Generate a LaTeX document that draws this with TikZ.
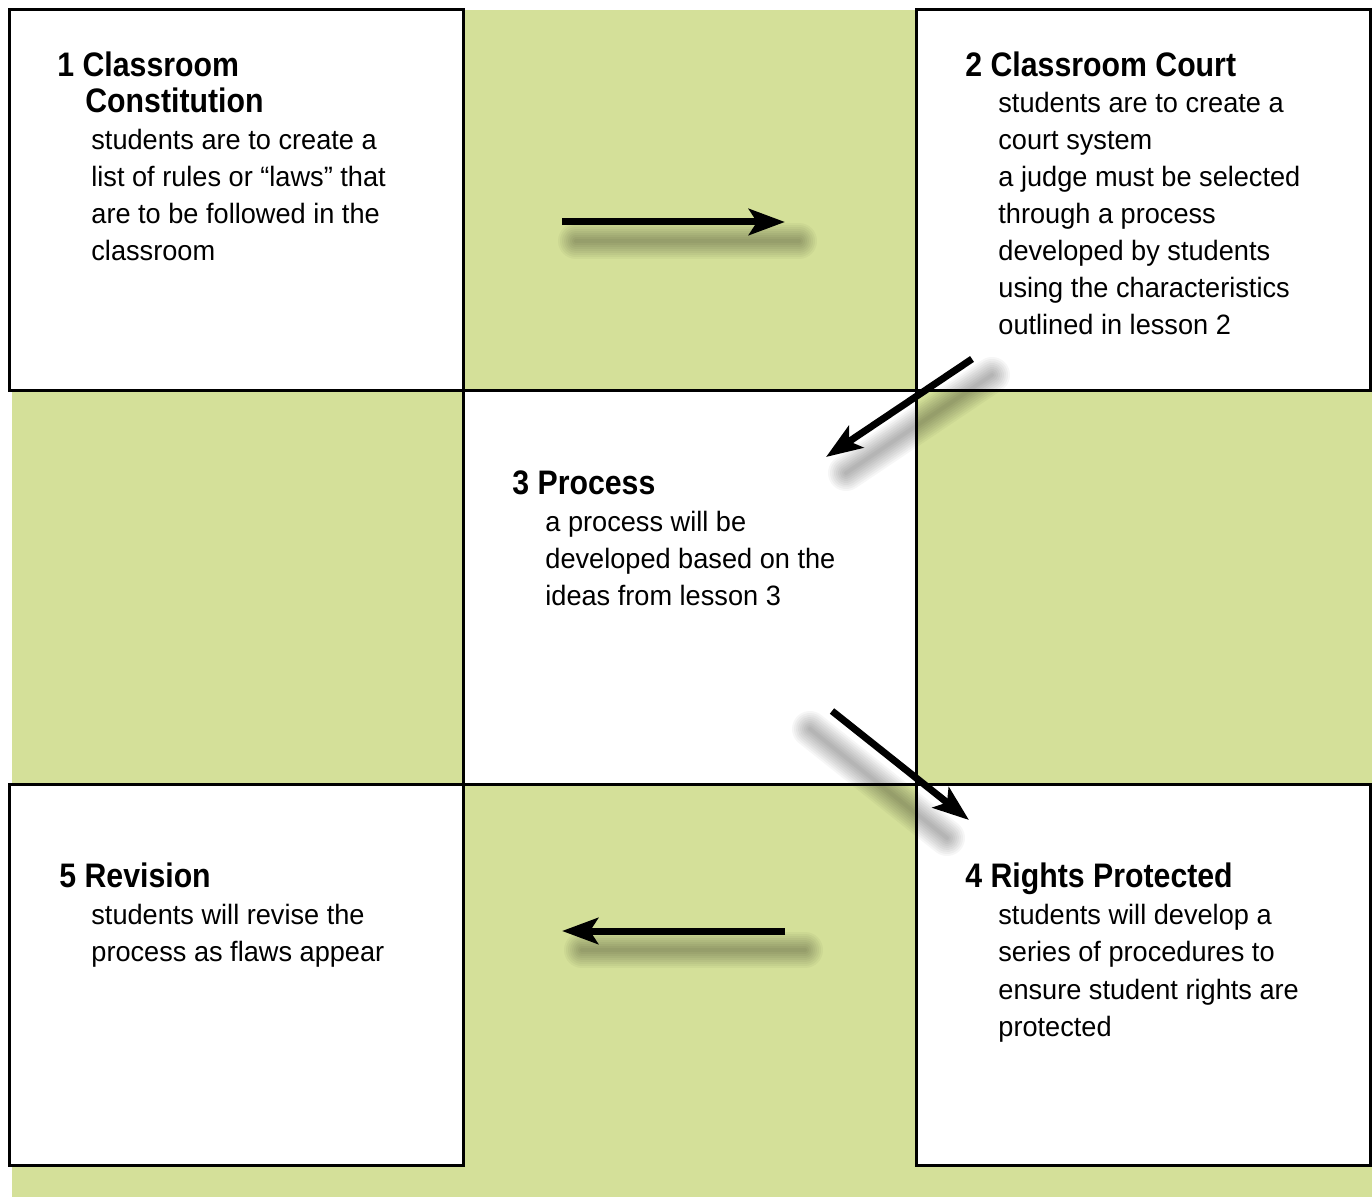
\documentclass[tikz,border=0pt]{standalone}
\usepackage{fontspec}
\setmainfont{Liberation Sans}[FakeStretch=0.97]
\newfontfamily\headfont{Liberation Sans}[FakeStretch=0.89]
\usetikzlibrary{arrows.meta,positioning,calc}
\definecolor{lessongreen}{RGB}{212,224,153}

\begin{document}
\begin{tikzpicture}[x=0.5pt,y=-0.5pt,
  cell/.style={draw, line width=1.5pt, fill=white, inner sep=0pt},
  head/.style={anchor=base west, inner sep=0pt, align=left, font=\headfont\fontsize{17}{18.5}\selectfont\bfseries},
  body/.style={anchor=base west, inner sep=0pt, align=left, font=\fontsize{14}{18.5}\selectfont},
  flow/.style={line width=3.5pt, -{Stealth[length=18pt,width=13pt,inset=4pt]}}]
\useasboundingbox (0,0) rectangle (1372,1197);
% green background
\fill[lessongreen] (12,10) rectangle (1372,1197);

% the five steps
\node[cell, minimum width=227pt, minimum height=190.5pt] (constitution) at (236,200.5) {};
\node[cell, minimum width=227pt, minimum height=190.5pt] (court) at (1143,200.5) {};
\node[cell, minimum width=226.5pt, minimum height=197pt] (process) at (689.5,588) {};
\node[cell, minimum width=227pt, minimum height=190pt] (rights) at (1143,975) {};
\node[cell, minimum width=227pt, minimum height=190pt] (revision) at (236,975) {};

% texts (base = last line)
\node[head] (t_constitution) at (57,77) {1 Classroom};
\node[head] (t_constitution2) at (85,113) {Constitution};
\node[body] (b_constitution) at (91,261) {students are to create a\\list of rules or “laws” that\\are to be followed in the\\classroom};

\node[head] (t_court) at (965,77) {2 Classroom Court};
\node[body] (b_court) at (998,335) {students are to create a\\court system\\a judge must be selected\\through a process\\developed by students\\using the characteristics\\outlined in lesson 2};

\node[head] (t_process) at (512,495) {3 Process};
\node[body] (b_process) at (545,606) {a process will be\\developed based on the\\ideas from lesson 3};

\node[head] (t_rights) at (965,888) {4 Rights Protected};
\node[body] (b_rights) at (998,1036) {students will develop a\\series of procedures to\\ensure student rights are\\protected};

\node[head] (t_revision) at (59,888) {5 Revision};
\node[body] (b_revision) at (91,962) {students will revise the\\process as flaws appear};

% arrow ends
\coordinate (a1s) at (562,222);
\coordinate (a1e) at (785,222);
\coordinate (a2s) at (972,359);
\coordinate (a2e) at (826,457);
\coordinate (a3s) at (832,711);
\coordinate (a3e) at (969,820);
\coordinate (a4s) at (785,931);
\coordinate (a4e) at (562,931);

% arrows with soft shadows
\foreach \s/\e/\dx/\dy in {a1s/a1e/14/19, a2s/a2e/20/16, a3s/a3e/-22/18, a4s/a4e/20/19} {
  \foreach \w in {2,4,...,18}
    \draw[line width=\w pt, line cap=round, opacity=0.035]
      ($(\s)+(\dx,\dy)$) -- ($(\e)+(\dx,\dy)$);
  \foreach \r in {3,5,7}
    \fill[opacity=0.08] ($(\e)!15!(\s)+(\dx,\dy)$) circle (\r pt);
  \draw[flow] (\s) -- (\e);
}
\end{tikzpicture}
\end{document}
